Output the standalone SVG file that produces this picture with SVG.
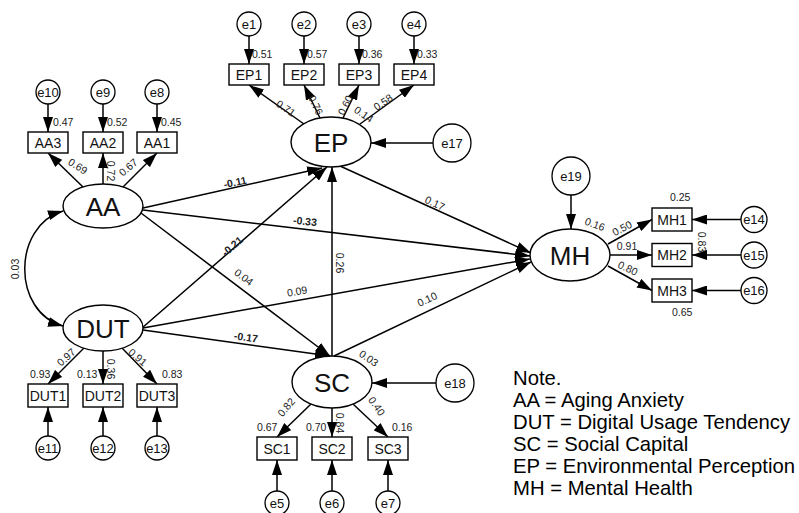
<svg xmlns="http://www.w3.org/2000/svg" width="799" height="513" viewBox="0 0 799 513">
  <style>
    .lat { fill: #fff; stroke: #000; stroke-width: 1.4; }
    .obs { fill: #fff; stroke: #000; stroke-width: 1.4; }
    .err { fill: #fff; stroke: #000; stroke-width: 1.3; }
    .path { fill: none; stroke: #000; stroke-width: 1.5; marker-end: url(#arrow); }
    .cov { fill: none; stroke: #000; stroke-width: 1.5; marker-start: url(#arrow); marker-end: url(#arrow); }
    text { font-family: "Liberation Sans", Arial, sans-serif; fill: #111; }
    .latT { font-size: 26px; text-anchor: middle; }
    .obsT { font-size: 14px; text-anchor: middle; }
    .errT { font-size: 13px; text-anchor: middle; }
    .coef { font-size: 10.5px; fill: #222; }
    .mid { text-anchor: middle; }
    .b { font-weight: bold; }
    .note { font-size: 20.3px; fill: #000; }
  </style>
  <defs>
    <marker id="arrow" viewBox="0 0 15 10" refX="15" refY="5" markerWidth="15" markerHeight="10" markerUnits="userSpaceOnUse" orient="auto-start-reverse">
      <path d="M0,0 L15,5 L0,10 z" fill="#000"/>
    </marker>
  </defs>
  <rect width="799" height="513" fill="#fff"/>

  <!-- all paths, loadings and error arrows -->
  <g id="connectors">
    <!-- AA/DUT covariance -->
    <path class="cov" d="M63,211 C12,226 12,312 63,326"/>
    <!-- AA measurement -->
    <line class="path" x1="83" y1="187" x2="48" y2="153"/>
    <line class="path" x1="103" y1="184" x2="103" y2="153"/>
    <line class="path" x1="123" y1="187" x2="157" y2="153"/>
    <line class="path" x1="48" y1="104" x2="48" y2="132"/>
    <line class="path" x1="103" y1="104" x2="103" y2="132"/>
    <line class="path" x1="157" y1="104" x2="157" y2="132"/>
    <!-- EP measurement -->
    <line class="path" x1="304" y1="124" x2="249" y2="85"/>
    <line class="path" x1="320" y1="118" x2="304" y2="85"/>
    <line class="path" x1="343" y1="118" x2="359" y2="85"/>
    <line class="path" x1="360" y1="124" x2="414" y2="85"/>
    <line class="path" x1="249" y1="36" x2="249" y2="64"/>
    <line class="path" x1="304" y1="36" x2="304" y2="64"/>
    <line class="path" x1="359" y1="36" x2="359" y2="64"/>
    <line class="path" x1="414" y1="36" x2="414" y2="64"/>
    <line class="path" x1="433" y1="143" x2="371" y2="143"/>
    <!-- DUT measurement -->
    <line class="path" x1="84" y1="348" x2="48" y2="384"/>
    <line class="path" x1="103" y1="351" x2="103" y2="384"/>
    <line class="path" x1="122" y1="348" x2="157" y2="384"/>
    <line class="path" x1="48" y1="436" x2="48" y2="407"/>
    <line class="path" x1="103" y1="436" x2="103" y2="407"/>
    <line class="path" x1="157" y1="436" x2="157" y2="407"/>
    <!-- SC measurement -->
    <line class="path" x1="311" y1="404" x2="277" y2="437"/>
    <line class="path" x1="332" y1="408" x2="332" y2="437"/>
    <line class="path" x1="353" y1="404" x2="388" y2="437"/>
    <line class="path" x1="277" y1="491" x2="277" y2="460"/>
    <line class="path" x1="332" y1="491" x2="332" y2="460"/>
    <line class="path" x1="388" y1="491" x2="388" y2="460"/>
    <line class="path" x1="436" y1="383" x2="372" y2="383"/>
    <!-- MH measurement -->
    <line class="path" x1="608" y1="244" x2="652" y2="219.5"/>
    <line class="path" x1="610" y1="255" x2="652" y2="255"/>
    <line class="path" x1="608" y1="266" x2="652" y2="290.5"/>
    <line class="path" x1="741" y1="219.5" x2="692" y2="219.5"/>
    <line class="path" x1="741" y1="255" x2="692" y2="255"/>
    <line class="path" x1="741" y1="290.5" x2="692" y2="290.5"/>
    <line class="path" x1="571" y1="195" x2="571" y2="229"/>
    <!-- structural paths -->
    <line class="path" x1="143" y1="208" x2="322" y2="168"/>
    <line class="path" x1="143" y1="210" x2="530" y2="256"/>
    <line class="path" x1="141" y1="213" x2="330" y2="356"/>
    <line class="path" x1="142" y1="328" x2="327" y2="167"/>
    <line class="path" x1="143" y1="328" x2="530" y2="259"/>
    <line class="path" x1="143" y1="330" x2="330" y2="356"/>
    <line class="path" x1="332" y1="356" x2="332" y2="167"/>
    <line class="path" x1="340" y1="166" x2="531" y2="253"/>
    <line class="path" x1="334" y1="356" x2="531" y2="262"/>
  </g>

  <!-- coefficient labels -->
  <g id="estimates">
    <text class="coef mid" transform="translate(15,269) rotate(-90)" y="4">0.03</text>
    <text class="coef" x="53" y="126">0.47</text>
    <text class="coef" x="107" y="126">0.52</text>
    <text class="coef" x="161" y="126">0.45</text>
    <text class="coef mid" transform="translate(78,166) rotate(32)" y="4">0.69</text>
    <text class="coef mid" transform="translate(111,171) rotate(90)" y="4">0.72</text>
    <text class="coef mid" transform="translate(128,167) rotate(-40)" y="4">0.67</text>

    <text class="coef" x="252" y="58">0.51</text>
    <text class="coef" x="307" y="58">0.57</text>
    <text class="coef" x="362" y="58">0.36</text>
    <text class="coef" x="417" y="58">0.33</text>
    <text class="coef mid" transform="translate(286,108) rotate(35)" y="4">0.71</text>
    <text class="coef mid" transform="translate(316,105) rotate(64)" y="4">0.76</text>
    <text class="coef mid" transform="translate(345,105) rotate(-63)" y="4">0.60</text>
    <text class="coef mid" transform="translate(364,114) rotate(35)" y="4">0.14</text>
    <text class="coef mid" transform="translate(383,102) rotate(-34)" y="4">0.58</text>

    <text class="coef mid" transform="translate(66,357) rotate(-42)" y="4">0.97</text>
    <text class="coef" x="30" y="378">0.93</text>
    <text class="coef" x="77" y="378">0.13</text>
    <text class="coef mid" transform="translate(111,369) rotate(90)" y="4">0.36</text>
    <text class="coef mid" transform="translate(138,357) rotate(40)" y="4">0.91</text>
    <text class="coef" x="162" y="378">0.83</text>

    <text class="coef mid" transform="translate(286,407) rotate(-50)" y="4">0.82</text>
    <text class="coef" x="257" y="431">0.67</text>
    <text class="coef" x="306" y="431">0.70</text>
    <text class="coef mid" transform="translate(340,423) rotate(90)" y="4">0.84</text>
    <text class="coef mid" transform="translate(377,406) rotate(55)" y="4">0.40</text>
    <text class="coef" x="392" y="431">0.16</text>
    <text class="coef mid" transform="translate(369,358) rotate(35)" y="4">0.03</text>

    <text class="coef mid" transform="translate(595,224) rotate(20)" y="4">0.16</text>
    <text class="coef mid" transform="translate(622,228) rotate(-28)" y="4">0.50</text>
    <text class="coef mid" x="627" y="250">0.91</text>
    <text class="coef mid" transform="translate(628,268) rotate(25)" y="4">0.80</text>
    <text class="coef" x="670" y="201">0.25</text>
    <text class="coef" x="672" y="316">0.65</text>
    <text class="coef mid" transform="translate(702,242) rotate(90)" y="4">0.83</text>

    <text class="coef mid b" transform="translate(235,182) rotate(-12)" y="4">-0.11</text>
    <text class="coef mid b" transform="translate(305,221) rotate(6)" y="4">-0.33</text>
    <text class="coef mid" transform="translate(244,277) rotate(37)" y="4">0.04</text>
    <text class="coef mid b" transform="translate(232,246) rotate(-41)" y="4">-0.21</text>
    <text class="coef mid" transform="translate(297,291) rotate(-10)" y="4">0.09</text>
    <text class="coef mid b" transform="translate(246,337) rotate(8)" y="4">-0.17</text>
    <text class="coef mid" transform="translate(340,263) rotate(90)" y="4">0.26</text>
    <text class="coef mid" transform="translate(435,203) rotate(25)" y="4">0.17</text>
    <text class="coef mid" transform="translate(427,299) rotate(-25)" y="4">0.10</text>
  </g>

  <!-- latent variables -->
  <g id="AA"><ellipse class="lat" cx="103" cy="206" rx="40" ry="22"/><text class="latT" x="103" y="215.5">AA</text></g>
  <g id="DUT"><ellipse class="lat" cx="103" cy="328" rx="40" ry="23"/><text class="latT" x="103" y="337.5">DUT</text></g>
  <g id="EP"><ellipse class="lat" cx="331" cy="142" rx="40" ry="25"/><text class="latT" x="331" y="151.5">EP</text></g>
  <g id="SC"><ellipse class="lat" cx="332" cy="382" rx="40" ry="26"/><text class="latT" x="332" y="391.5">SC</text></g>
  <g id="MH"><ellipse class="lat" cx="570" cy="255" rx="40" ry="26"/><text class="latT" x="570" y="264.5">MH</text></g>

  <!-- observed indicators -->
  <g id="AA3"><rect class="obs" x="28" y="132" width="40" height="21"/><text class="obsT" x="48" y="147.5">AA3</text></g>
  <g id="AA2"><rect class="obs" x="83" y="132" width="40" height="21"/><text class="obsT" x="103" y="147.5">AA2</text></g>
  <g id="AA1"><rect class="obs" x="137" y="132" width="40" height="21"/><text class="obsT" x="157" y="147.5">AA1</text></g>
  <g id="EP1"><rect class="obs" x="229" y="64" width="40" height="21"/><text class="obsT" x="249" y="79.5">EP1</text></g>
  <g id="EP2"><rect class="obs" x="284" y="64" width="40" height="21"/><text class="obsT" x="304" y="79.5">EP2</text></g>
  <g id="EP3"><rect class="obs" x="339" y="64" width="40" height="21"/><text class="obsT" x="359" y="79.5">EP3</text></g>
  <g id="EP4"><rect class="obs" x="394" y="64" width="40" height="21"/><text class="obsT" x="414" y="79.5">EP4</text></g>
  <g id="DUT1"><rect class="obs" x="28" y="384" width="40" height="23"/><text class="obsT" x="48" y="400.5">DUT1</text></g>
  <g id="DUT2"><rect class="obs" x="83" y="384" width="40" height="23"/><text class="obsT" x="103" y="400.5">DUT2</text></g>
  <g id="DUT3"><rect class="obs" x="137" y="384" width="40" height="23"/><text class="obsT" x="157" y="400.5">DUT3</text></g>
  <g id="SC1"><rect class="obs" x="257" y="437" width="40" height="23"/><text class="obsT" x="277" y="453.5">SC1</text></g>
  <g id="SC2"><rect class="obs" x="312" y="437" width="40" height="23"/><text class="obsT" x="332" y="453.5">SC2</text></g>
  <g id="SC3"><rect class="obs" x="368" y="437" width="40" height="23"/><text class="obsT" x="388" y="453.5">SC3</text></g>
  <g id="MH1"><rect class="obs" x="652" y="208" width="40" height="23"/><text class="obsT" x="672" y="224.5">MH1</text></g>
  <g id="MH2"><rect class="obs" x="652" y="243.5" width="40" height="23"/><text class="obsT" x="672" y="260">MH2</text></g>
  <g id="MH3"><rect class="obs" x="652" y="279" width="40" height="23"/><text class="obsT" x="672" y="295.5">MH3</text></g>

  <!-- error terms -->
  <g id="e1"><circle class="err" cx="249" cy="24" r="12"/><text class="errT" x="249" y="28.5">e1</text></g>
  <g id="e2"><circle class="err" cx="304" cy="24" r="12"/><text class="errT" x="304" y="28.5">e2</text></g>
  <g id="e3"><circle class="err" cx="359" cy="24" r="12"/><text class="errT" x="359" y="28.5">e3</text></g>
  <g id="e4"><circle class="err" cx="414" cy="24" r="12"/><text class="errT" x="414" y="28.5">e4</text></g>
  <g id="e10"><circle class="err" cx="48" cy="92" r="12"/><text class="errT" x="48" y="96.5">e10</text></g>
  <g id="e9"><circle class="err" cx="103" cy="92" r="12"/><text class="errT" x="103" y="96.5">e9</text></g>
  <g id="e8"><circle class="err" cx="157" cy="92" r="12"/><text class="errT" x="157" y="96.5">e8</text></g>
  <g id="e11"><circle class="err" cx="48" cy="448" r="12"/><text class="errT" x="48" y="452.5">e11</text></g>
  <g id="e12"><circle class="err" cx="103" cy="448" r="12"/><text class="errT" x="103" y="452.5">e12</text></g>
  <g id="e13"><circle class="err" cx="157" cy="448" r="12"/><text class="errT" x="157" y="452.5">e13</text></g>
  <g id="e5"><circle class="err" cx="277" cy="503" r="12"/><text class="errT" x="277" y="507.5">e5</text></g>
  <g id="e6"><circle class="err" cx="332" cy="503" r="12"/><text class="errT" x="332" y="507.5">e6</text></g>
  <g id="e7"><circle class="err" cx="388" cy="503" r="12"/><text class="errT" x="388" y="507.5">e7</text></g>
  <g id="e14"><circle class="err" cx="754" cy="219.5" r="13"/><text class="errT" x="754" y="224">e14</text></g>
  <g id="e15"><circle class="err" cx="754" cy="255" r="13"/><text class="errT" x="754" y="259.5">e15</text></g>
  <g id="e16"><circle class="err" cx="754" cy="290.5" r="13"/><text class="errT" x="754" y="295">e16</text></g>
  <g id="e17"><circle class="err" cx="452" cy="143" r="19"/><text class="errT" x="452" y="147.5">e17</text></g>
  <g id="e18"><circle class="err" cx="455" cy="383" r="19"/><text class="errT" x="455" y="387.5">e18</text></g>
  <g id="e19"><circle class="err" cx="571" cy="176" r="19"/><text class="errT" x="571" y="180.5">e19</text></g>

  <!-- abbreviation note -->
  <g id="note">
    <text class="note" x="513" y="385">Note.</text>
    <text class="note" x="513" y="407">AA = Aging Anxiety</text>
    <text class="note" x="513" y="429">DUT = Digital Usage Tendency</text>
    <text class="note" x="513" y="451">SC = Social Capital</text>
    <text class="note" x="513" y="473">EP = Environmental Perception</text>
    <text class="note" x="513" y="495">MH = Mental Health</text>
  </g>
</svg>
